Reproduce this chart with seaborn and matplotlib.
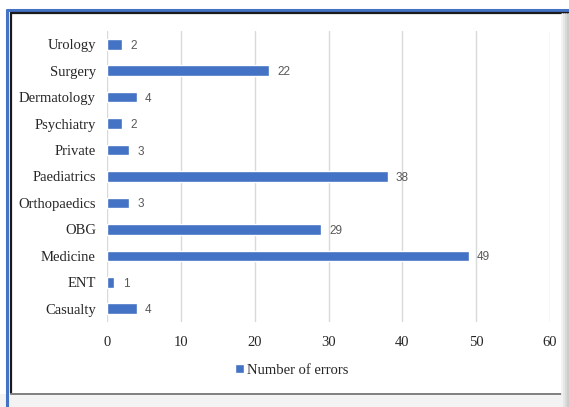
import matplotlib
matplotlib.use("Agg")
import matplotlib.pyplot as plt
from matplotlib.lines import Line2D
from matplotlib.patches import Rectangle
import seaborn as sns
import pandas as pd

departments = ["Urology", "Surgery", "Dermatology", "Psychiatry", "Private",
               "Paediatrics", "Orthopaedics", "OBG", "Medicine", "ENT", "Casualty"]
errors = [2, 22, 4, 2, 3, 38, 3, 29, 49, 1, 4]
x_ticks = [0, 10, 20, 30, 40, 50, 60]
series_name = "Number of errors"

df = pd.DataFrame({"Department": departments, series_name: errors})

sns.set_theme(style="white")
plt.rcParams["font.family"] = ["Liberation Serif", "DejaVu Serif"]

W, H = 569, 407
fig = plt.figure(figsize=(W / 100, H / 100), dpi=100)
ax = fig.add_axes([107 / W, 1 - 322 / H, (550 - 107) / W, (322 - 31) / H])

bar_color = "#4472C4"
sns.barplot(data=df, y="Department", x=series_name, orient="h",
            color=bar_color, width=0.4, ax=ax, saturation=1,
            label=series_name)

ax.set_xlim(0, 60)
ax.set_xticks(x_ticks)
ax.set_xticklabels([str(t) for t in x_ticks])
ax.set_xlabel("")
ax.set_ylabel("")
ax.grid(axis="x", color="#D9D9D9", linewidth=1)
ax.grid(axis="y", visible=False)
ax.set_axisbelow(True)
for s in ax.spines.values():
    s.set_visible(False)
ax.tick_params(axis="both", length=0, labelsize=10.5, labelcolor="#262626")
ax.tick_params(axis="x", pad=10)
ax.tick_params(axis="y", pad=8)

for cont in ax.containers:
    labels = ax.bar_label(cont, labels=[str(v) for v in errors], padding=6,
                          fontsize=8.5, color="#595959",
                          family=["Liberation Sans Narrow", "Liberation Sans"])
    for lab in labels:
        lab.set_va("center_baseline")

leg = ax.legend(loc="center", bbox_to_anchor=(292 / W, 1 - 370 / H),
                bbox_transform=fig.transFigure, frameon=False,
                fontsize=10.5, handlelength=0.6, handleheight=0.6,
                handletextpad=0.2)
for t in leg.get_texts():
    t.set_color("#262626")

# surrounding frame
def fig_line(xs, ys, **kw):
    fig.add_artist(Line2D([x / W for x in xs], [1 - y / H for y in ys],
                          transform=fig.transFigure, **kw))

fig.add_artist(Rectangle((0, 0), 1, (H - 394) / H, transform=fig.transFigure,
                         facecolor="#f3f3f3", edgecolor="none"))
fig_line([7, 7], [10, 407], color="#4472C4", linewidth=2.2)
fig_line([7, 569], [10, 10], color="#4472C4", linewidth=2.2)
fig_line([10.5, 10.5], [13, 393], color="#1a1a1a", linewidth=1.6)
fig_line([10.5, 569], [13, 13], color="#1a1a1a", linewidth=1.6)
fig_line([11, 569], [393.5, 393.5], color="#7f7f7f", linewidth=1.4)
for i, c in enumerate(["#f2f2f2", "#e6e6e6", "#d9d9d9", "#cccccc"]):
    fig_line([562 + i * 2, 562 + i * 2], [14, 407], color=c, linewidth=2)

fig.savefig("out.png", dpi=100)
